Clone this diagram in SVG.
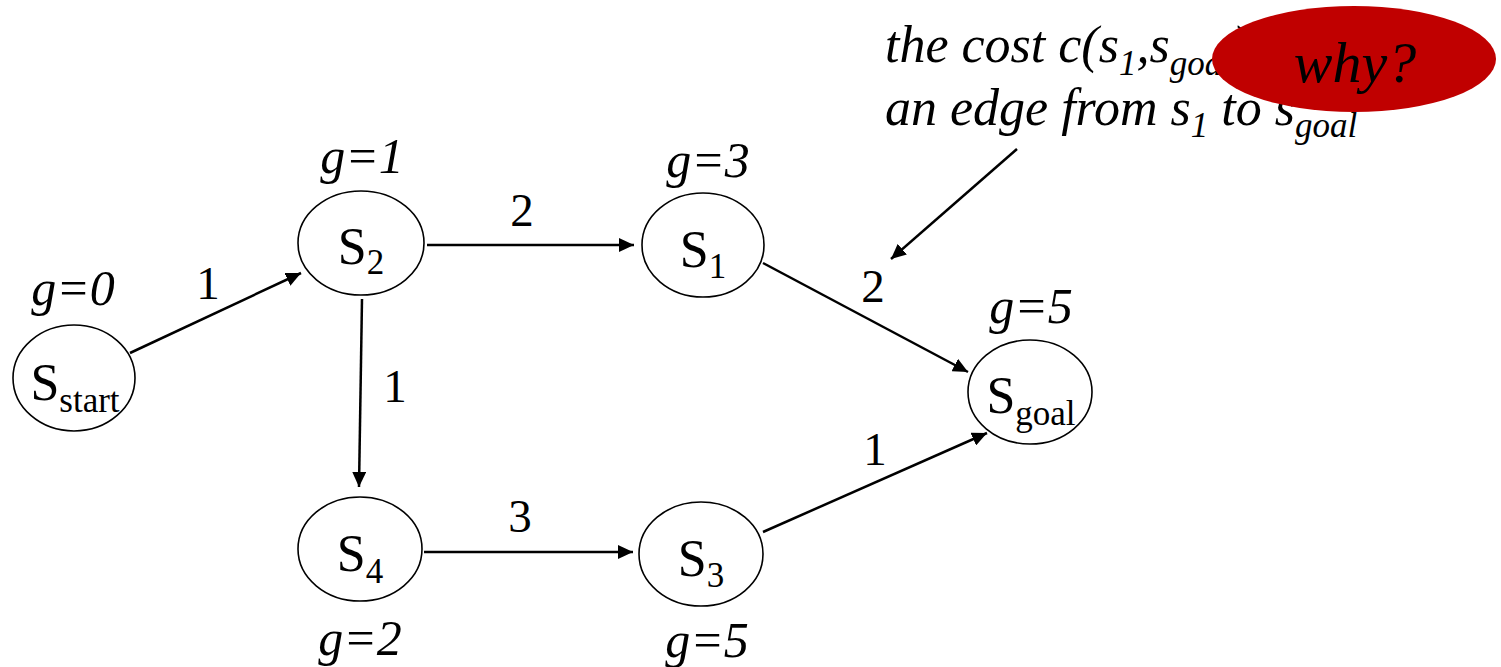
<svg xmlns="http://www.w3.org/2000/svg" width="1501" height="667" viewBox="0 0 1501 667" font-family="Liberation Serif">
<style>
.node ellipse{fill:#fff;stroke:#000;stroke-width:1.6}
.lbl{font-family:'Liberation Serif';font-size:52px;text-anchor:middle}
.sub{font-size:35px}
.gv{font-family:'Liberation Serif';font-size:50px;font-style:italic;text-anchor:middle}
.wt{font-family:'Liberation Serif';font-size:47px;text-anchor:middle}
.edge{stroke:#000;stroke-width:2.5;fill:none}
.note{font-family:'Liberation Serif';font-size:52px;font-style:italic}
.why{font-family:'Liberation Serif';font-size:58px;font-style:italic;text-anchor:middle}
</style>
<defs>
<marker id="ah" markerUnits="userSpaceOnUse" markerWidth="16" markerHeight="14" refX="15" refY="7" orient="auto">
<path d="M0,0 L15,7 L0,14 z" fill="#000"/>
</marker>
</defs>
<rect width="1501" height="667" fill="#fff"/>
<g id="connectors">
<line class="edge" x1="130" y1="353" x2="301" y2="273" marker-end="url(#ah)"/>
<line class="edge" x1="427" y1="245" x2="634" y2="245" marker-end="url(#ah)"/>
<line class="edge" x1="362" y1="299" x2="359" y2="487" marker-end="url(#ah)"/>
<line class="edge" x1="424" y1="552" x2="633" y2="552" marker-end="url(#ah)"/>
<line class="edge" x1="763" y1="263" x2="968" y2="372" marker-end="url(#ah)"/>
<line class="edge" x1="763" y1="532" x2="987" y2="433" marker-end="url(#ah)"/>
<line class="edge" x1="1017" y1="149" x2="891" y2="259" marker-end="url(#ah)"/>
<text class="wt" x="208" y="299">1</text>
<text class="wt" x="522" y="226">2</text>
<text class="wt" x="395" y="402">1</text>
<text class="wt" x="520" y="532">3</text>
<text class="wt" x="873" y="302">2</text>
<text class="wt" x="875" y="465">1</text>
</g>
<g id="n-start" class="node">
<ellipse cx="74" cy="378" rx="61" ry="53"/>
<text class="lbl" x="75" y="400">S<tspan class="sub" dy="12">start</tspan></text>
<text class="gv" x="73" y="305">g=0</text>
</g>
<g id="n-s2" class="node">
<ellipse cx="361" cy="243" rx="63" ry="52"/>
<text class="lbl" x="361" y="264">S<tspan class="sub" dy="10">2</tspan></text>
<text class="gv" x="362" y="173">g=1</text>
</g>
<g id="n-s1" class="node">
<ellipse cx="703" cy="245" rx="61" ry="52"/>
<text class="lbl" x="703" y="267">S<tspan class="sub" dy="11">1</tspan></text>
<text class="gv" x="708" y="177">g=3</text>
</g>
<g id="n-s4" class="node">
<ellipse cx="360" cy="549" rx="62" ry="52"/>
<text class="lbl" x="360" y="571">S<tspan class="sub" dy="12">4</tspan></text>
<text class="gv" x="360" y="655">g=2</text>
</g>
<g id="n-s3" class="node">
<ellipse cx="701" cy="554" rx="62" ry="52"/>
<text class="lbl" x="701" y="576">S<tspan class="sub" dy="11">3</tspan></text>
<text class="gv" x="707" y="657">g=5</text>
</g>
<g id="n-goal" class="node">
<ellipse cx="1030" cy="392" rx="62" ry="52"/>
<text class="lbl" x="1031" y="413">S<tspan class="sub" dy="12">goal</tspan></text>
<text class="gv" x="1031" y="323">g=5</text>
</g>
<g id="note">
<text class="note" x="885" y="62">the cost c(s<tspan class="sub" dy="13">1</tspan><tspan dy="-13">,s</tspan><tspan class="sub" dy="13">goal</tspan><tspan dy="-13">) of</tspan></text>
<text class="note" x="885" y="125">an edge from s<tspan class="sub" dy="12">1</tspan><tspan dy="-12"> to s</tspan><tspan class="sub" dy="12">goal</tspan></text>
</g>
<g id="why">
<ellipse cx="1354" cy="59" rx="142" ry="53" fill="#C00000"/>
<text class="why" x="1355" y="82">why?</text>
</g>
</svg>
